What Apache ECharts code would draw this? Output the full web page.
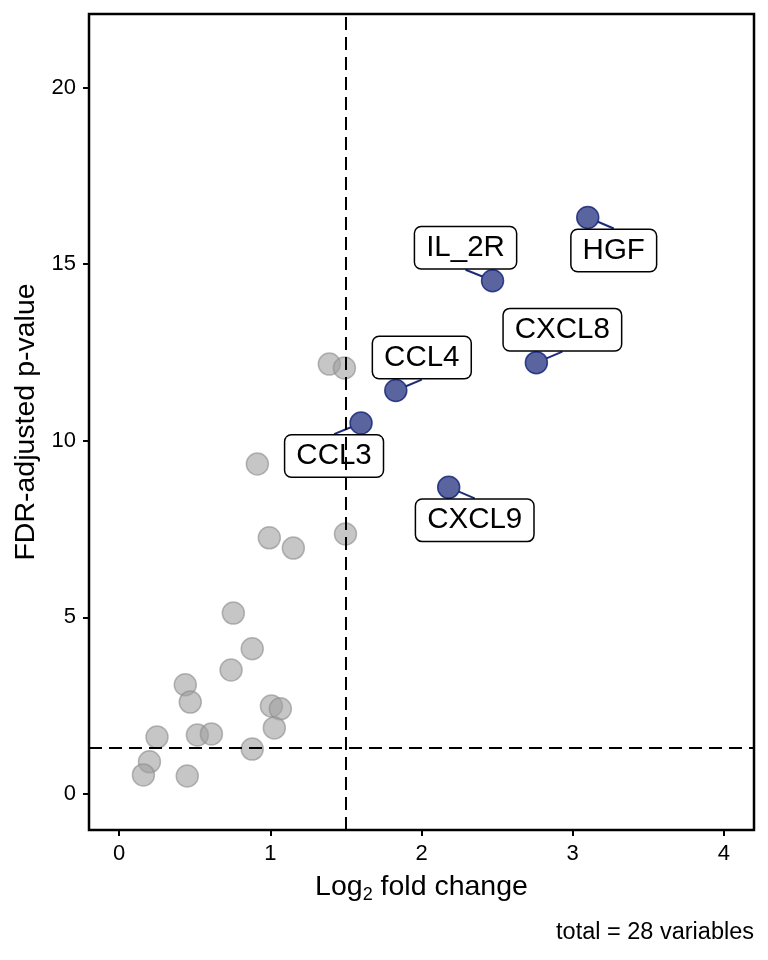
<!DOCTYPE html>
<html>
<head>
<meta charset="utf-8">
<script src="https://cdn.jsdelivr.net/npm/echarts@6/dist/echarts.min.js"></script>
<style>
  html, body { margin: 0; padding: 0; background: #fff; }
  #chart { width: 768px; height: 960px; }
</style>
</head>
<body>
<div id="chart"></div>
<script>
  // significant genes (labelled, blue)
  const geneNames = ['HGF', 'IL_2R', 'CXCL8', 'CCL4', 'CCL3', 'CXCL9'];
  const geneLog2FC = [3.10, 2.47, 2.76, 1.83, 1.60, 2.18];
  const genePadj = [16.32, 14.53, 12.21, 11.42, 10.50, 8.68];

  // remaining variables (grey)
  const otherLog2FC = [0.755, 0.88, 0.74, 0.437, 0.47, 1.007, 1.066, 1.026, 0.25, 0.517, 0.61,
    0.88, 0.20, 0.16, 0.45, 0.914, 0.993, 1.152, 1.497, 1.39, 1.49];
  const otherPadj = [5.12, 4.11, 3.51, 3.09, 2.60, 2.49, 2.41, 1.87, 1.61, 1.67, 1.70,
    1.27, 0.91, 0.54, 0.51, 9.34, 7.25, 6.96, 7.36, 12.17, 12.06];

  const xTicks = [0, 1, 2, 3, 4];
  const yTicks = [0, 5, 10, 15, 20];
  const fcCutoff = 1.5;
  const pCutoff = 1.301; // -log10(0.05)
  const caption = 'total = 28 variables';

  // label offsets in pixels (repel-style placement)
  const labelNudge = {
    HGF: [26, 33], IL_2R: [-27, -33], CXCL8: [26, -33],
    CCL4: [26, -33], CCL3: [-27, 33], CXCL9: [26, 33]
  };

  const font = '"Liberation Sans", Arial, Helvetica, sans-serif';
  const chart = echarts.init(document.getElementById('chart'), null, { renderer: 'canvas' });

  const option = {
    animation: false,
    backgroundColor: '#fff',
    textStyle: { fontFamily: font },
    grid: {
      left: 89, right: 14, top: 14, bottom: 130,
      show: true, borderColor: '#000', borderWidth: 2.5, backgroundColor: 'transparent'
    },
    xAxis: {
      type: 'value',
      min: -0.2,
      max: 4.2,
      name: '{a|Log}{s|2}{a| fold change}',
      nameLocation: 'middle',
      nameGap: 43,
      nameTextStyle: {
        rich: {
          a: { fontSize: 28.5, lineHeight: 28, verticalAlign: 'top', color: '#000', fontFamily: font },
          s: { fontSize: 18, lineHeight: 18, padding: [13, 0, 0, 0], verticalAlign: 'top', color: '#000', fontFamily: font }
        }
      },
      axisLine: { show: false, onZero: false },
      axisTick: { show: true, customValues: xTicks, length: 6, lineStyle: { color: '#000', width: 2 } },
      axisLabel: { customValues: xTicks, fontSize: 22, color: '#000', margin: 13, fontFamily: font },
      splitLine: { show: false }
    },
    yAxis: {
      type: 'value',
      min: -1.02,
      max: 22.08,
      name: 'FDR-adjusted p-value',
      nameLocation: 'middle',
      nameGap: 46,
      nameTextStyle: { fontSize: 28.5, color: '#000', fontFamily: font },
      axisLine: { show: false, onZero: false },
      axisTick: { show: true, customValues: yTicks, length: 6, lineStyle: { color: '#000', width: 2 } },
      axisLabel: { customValues: yTicks, fontSize: 22, color: '#000', margin: 13, fontFamily: font },
      splitLine: { show: false }
    },
    graphic: [{
      type: 'text',
      right: 14,
      top: 921,
      style: { text: caption, fontSize: 23.5, fill: '#000', fontFamily: font }
    }],
    series: [
      {
        type: 'scatter',
        symbolSize: 22,
        itemStyle: {
          opacity: 1,
          color: 'rgba(160,160,160,0.6)',
          borderColor: 'rgba(140,140,140,0.6)',
          borderWidth: 1.5
        },
        data: otherLog2FC.map((x, i) => [x, otherPadj[i]]),
        markLine: {
          silent: true,
          symbol: 'none',
          label: { show: false },
          lineStyle: { color: '#000', width: 2, type: [13, 7] },
          data: [{ xAxis: fcCutoff }, { yAxis: pCutoff }]
        },
        z: 2
      },
      {
        type: 'scatter',
        symbolSize: 22,
        itemStyle: {
          opacity: 1,
          color: 'rgba(20,35,120,0.7)',
          borderColor: 'rgba(15,30,115,0.78)',
          borderWidth: 1.5
        },
        data: geneNames.map((name, i) => ({ name, value: [geneLog2FC[i], genePadj[i]] })),
        label: {
          show: true,
          position: 'inside',
          formatter: '{b}',
          fontSize: 29.5,
          lineHeight: 29,
          color: '#000',
          textBorderWidth: 0,
          fontFamily: font,
          backgroundColor: '#fff',
          borderColor: '#000',
          borderWidth: 1.5,
          borderRadius: 6,
          padding: [6, 11]
        },
        labelLayout: params => {
          const [dx, dy] = labelNudge[geneNames[params.dataIndex]];
          return { dx, dy };
        },
        labelLine: { show: true, lineStyle: { color: '#1f2a7a', width: 2 } },
        z: 3
      }
    ]
  };

  chart.setOption(option);
</script>
</body>
</html>
